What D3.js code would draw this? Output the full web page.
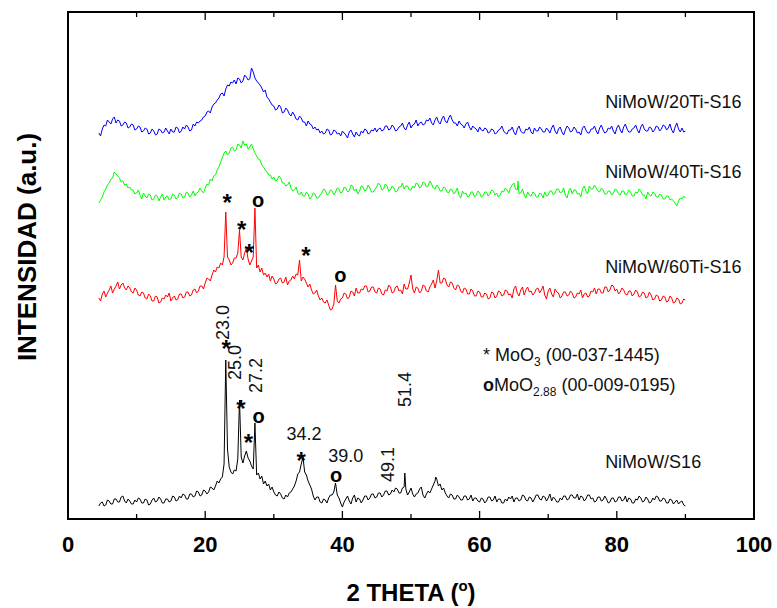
<!DOCTYPE html>
<html><head><meta charset="utf-8">
<script src="https://cdn.jsdelivr.net/npm/d3@7/dist/d3.min.js"></script>
<style>body{margin:0;background:#fff}text{font-family:"Liberation Sans",Arial,sans-serif}</style>
</head><body><svg id="c" width="777" height="608"></svg>
<script>
// 2θ grid: 4.5° to 90° in 0.25° steps (343 points)
const thetaStart = 4.5, thetaStep = 0.25;

const blueValues = [
386,383,390,394,393,399,397,395,400,402,396,399,398,393,394,397,396,391,392,395,
394,389,390,393,392,387,388,391,390,385,386,390,388,384,385,390,389,386,387,391,
388,385,390,387,387,392,391,386,388,392,390,394,392,388,389,395,393,397,396,398,
399,402,403,407,408,406,412,415,416,419,421,425,426,423,430,434,433,437,436,439,
435,441,440,436,438,444,442,439,440,451,447,441,438,436,434,431,427,429,422,420,
417,414,413,409,410,414,412,406,407,411,409,405,403,407,404,400,399,403,401,397,
397,393,398,395,394,390,392,389,390,386,388,385,386,390,389,384,385,389,388,385,
386,383,388,386,384,381,387,389,385,382,387,384,383,388,386,390,389,385,386,389,
388,391,387,390,391,388,389,393,393,389,390,394,392,388,389,392,393,396,391,389,
394,397,391,394,395,399,393,396,397,394,395,399,398,401,396,394,399,402,397,395,
400,403,398,396,401,404,399,396,396,393,398,395,394,391,395,397,392,389,393,391,
390,387,392,389,388,391,390,386,387,390,389,385,386,389,390,393,388,386,385,389,
389,392,387,384,390,393,388,386,386,390,389,392,387,385,391,388,388,392,390,387,
387,391,389,386,391,394,388,385,390,392,387,384,389,393,391,387,388,392,390,386,
387,384,391,393,389,386,386,390,390,393,388,385,391,394,389,386,387,391,390,393,
388,385,391,394,389,386,392,395,390,387,387,390,391,394,389,386,392,395,390,388,
388,392,391,387,389,393,392,388,390,394,393,389,391,395,389,386,392,396,390,387,
391,387,388];

const greenValues = [
316,319,322,327,330,334,336,340,341,347,345,343,341,337,338,334,335,331,332,329,
329,325,326,329,324,320,326,323,321,325,324,319,320,324,323,318,322,325,319,322,
323,319,320,325,324,320,321,326,325,321,322,327,326,322,324,328,323,326,327,331,
328,326,331,335,334,340,338,343,344,349,352,357,361,366,368,364,366,371,372,368,
369,375,374,371,378,374,375,370,372,375,370,366,363,360,359,354,352,349,347,344,
344,340,342,338,339,343,341,336,336,333,334,337,331,328,329,332,326,324,327,323,
323,327,325,320,322,326,325,321,321,324,326,330,329,324,325,329,328,324,327,331,
330,326,327,332,331,327,328,334,333,328,330,325,328,333,332,328,329,334,331,327,
327,330,332,336,334,329,330,335,333,328,329,333,331,327,328,332,332,336,330,333,
333,329,329,333,331,336,335,331,332,337,336,332,333,338,335,331,330,334,332,328,
328,332,331,327,326,330,329,325,327,331,324,321,328,325,326,322,323,327,327,322,
324,328,326,322,323,327,327,323,325,329,328,324,326,322,324,328,327,331,329,326,
331,334,336,330,329,325,326,330,324,321,327,324,323,327,326,322,322,326,325,321,
327,323,324,328,328,324,326,330,330,326,327,331,324,321,328,331,325,329,329,325,
326,322,330,333,328,325,333,330,330,334,331,328,327,331,329,325,325,328,328,324,
326,330,329,325,324,328,328,324,325,329,327,323,323,327,326,330,328,324,324,320,
327,324,323,327,326,322,322,325,324,320,320,323,323,319,320,318,316,313,318,321,
320,323,321];

const redValues = [
221,218,225,228,222,226,229,233,226,230,233,237,230,234,236,231,229,233,231,227,
226,231,229,224,223,227,226,221,220,225,223,218,218,223,222,216,217,221,220,224,
222,226,218,221,223,219,220,225,225,221,222,227,227,223,224,229,230,226,228,233,
233,230,236,241,240,238,244,249,247,252,251,256,254,262,307,262,259,254,256,261,
261,266,289,262,259,266,271,260,254,258,262,311,251,254,247,251,244,246,242,245,
238,243,240,235,236,240,241,236,237,242,234,238,239,243,240,245,244,259,238,242,
240,236,232,235,229,225,226,229,223,219,221,217,216,219,214,209,210,215,234,218,
216,220,221,226,225,220,222,228,227,223,231,226,226,230,229,233,233,227,228,232,
232,227,226,231,230,225,224,229,228,234,232,226,227,232,233,228,229,225,235,230,
230,236,244,230,226,232,231,226,228,234,233,228,227,232,235,239,231,238,249,236,
236,241,240,234,232,237,236,231,229,234,233,228,226,231,230,225,225,230,228,223,
223,228,227,222,222,226,225,220,221,227,226,221,223,228,227,223,224,229,228,224,
225,221,230,233,226,223,229,232,224,229,232,227,228,224,226,230,231,226,229,233,
224,220,228,231,225,222,230,227,226,221,223,227,227,223,224,228,226,221,222,226,
225,229,221,225,226,222,223,228,227,231,225,230,230,226,226,232,232,227,229,234,
233,228,230,225,227,231,229,225,224,228,228,223,225,229,227,222,223,227,226,221,
222,227,224,219,220,224,223,218,219,223,222,217,218,223,221,216,217,221,220,215,
216,220,219];

const blackValues = [
13,16,17,13,14,19,18,15,15,20,20,17,17,22,23,18,16,20,18,15,
15,19,17,21,20,16,16,20,19,14,15,19,21,17,18,22,20,16,16,20,
20,17,18,23,22,18,19,23,21,25,24,20,20,25,25,22,23,28,27,23,
24,29,28,25,27,32,31,29,33,38,36,40,42,55,159,70,52,47,45,49,
48,60,119,62,56,63,68,61,58,53,50,96,44,46,40,43,35,38,33,35,
29,32,27,24,23,27,25,21,20,24,22,26,27,30,33,38,45,47,55,62,
47,44,38,34,30,23,19,22,22,17,16,20,19,16,21,24,24,27,36,24,
21,16,12,17,20,23,18,15,21,24,17,21,20,16,19,23,23,19,21,25,
25,21,22,26,26,22,24,28,28,24,25,29,27,31,30,26,26,31,32,30,
24,27,31,25,22,25,26,30,32,24,21,25,28,26,30,34,38,40,33,35,
29,31,26,23,21,25,24,20,20,24,22,19,19,23,23,19,20,24,18,21,
21,18,17,21,20,16,18,22,22,18,19,23,17,20,20,16,16,20,18,22,
20,23,17,21,21,18,19,24,23,19,18,22,21,17,20,24,24,20,19,23,
22,18,21,25,18,22,20,17,17,21,19,23,23,19,20,24,24,21,21,25,
19,23,22,18,20,24,24,20,21,17,18,22,22,18,19,23,20,16,17,21,
21,17,18,22,22,18,19,23,17,21,20,16,16,20,19,23,21,17,18,22,
20,16,17,21,19,23,22,18,18,21,20,16,16,20,19,15,17,19,15,17,
18,14,13];

// sharp reflections falling between grid points [2θ, intensity]
const bluePeaks = [];
const greenPeaks = [[65.6, 338]];
const redPeaks = [];
const blackPeaks = [[49.1, 46], [53.6, 42]];

const seriesNames = ["NiMoW/20Ti-S16", "NiMoW/40Ti-S16", "NiMoW/60Ti-S16", "NiMoW/S16"];
const seriesColors = ["#0000ff", "#00ff00", "#ff0000", "#000000"];
const xTickValues = [0, 20, 40, 60, 80, 100];
const xMinorTicks = [10, 30, 50, 70, 90];
const peakPositions = ["23.0", "25.0", "27.2", "34.2", "39.0", "49.1", "51.4"];

const svg = d3.select("#c");
const L = 68, R = 754, T = 12, B = 519;
const x = d3.scaleLinear().domain([0, 100]).range([L, R]);
const y = d3.scaleLinear().domain([0, 507]).range([B, T]);

function build(vals, peaks) {
  const pts = vals.map((v, i) => [thetaStart + i * thetaStep, v]);
  return pts.concat(peaks).sort((a, b) => a[0] - b[0]);
}
const series = [
  build(blueValues, bluePeaks),
  build(greenValues, greenPeaks),
  build(redValues, redPeaks),
  build(blackValues, blackPeaks)
];

const line = d3.line().x(d => x(d[0])).y(d => y(d[1]));
series.forEach((s, i) => {
  svg.append("path").attr("d", line(s)).attr("fill", "none")
    .attr("stroke", seriesColors[i]).attr("stroke-width", 1).attr("stroke-linejoin", "miter");
});

// frame
svg.append("rect").attr("x", L).attr("y", T).attr("width", R - L).attr("height", B - T)
  .attr("fill", "none").attr("stroke", "#000").attr("stroke-width", 2);

// ticks (inward), bottom and top
const tickG = svg.append("g").attr("stroke", "#000").attr("stroke-width", 1.3);
xTickValues.concat(xMinorTicks).forEach(t => {
  const len = xTickValues.includes(t) ? 8 : 5;
  tickG.append("line").attr("x1", x(t)).attr("x2", x(t)).attr("y1", B).attr("y2", B - len);
  tickG.append("line").attr("x1", x(t)).attr("x2", x(t)).attr("y1", T).attr("y2", T + len);
});
// tick labels
xTickValues.forEach(t => {
  svg.append("text").attr("x", x(t)).attr("y", 552).attr("text-anchor", "middle")
    .attr("font-size", 22).attr("font-weight", "bold").text(t);
});

// axis titles
const xt = svg.append("text").attr("x", 411).attr("y", 601).attr("text-anchor", "middle")
  .attr("font-size", 24).attr("font-weight", "bold");
xt.append("tspan").text("2 THETA (");
xt.append("tspan").attr("font-size", 15).attr("dy", -10).text("o");
xt.append("tspan").attr("dy", 10).text(")");

svg.append("text").attr("transform", "translate(36,247) rotate(-90)").attr("text-anchor", "middle")
  .attr("font-size", 26).attr("font-weight", "bold").text("INTENSIDAD (a.u.)");

// series labels
const labelV = [411, 341, 246, 51];
seriesNames.forEach((n, i) => {
  svg.append("text").attr("x", x(78.3)).attr("y", y(labelV[i])).attr("font-size", 18)
    .attr("fill", "#111").text(n);
});

// peak position labels
const rotPos = {"23.0": [23.47, 179], "25.0": [25.2, 139], "27.2": [28.3, 126], "49.1": [47.5, 37], "51.4": [50.0, 112]};
const horPos = {"34.2": [34.4, 79], "39.0": [40.5, 57]};
peakPositions.forEach(p => {
  if (rotPos[p]) {
    const [t, v] = rotPos[p];
    svg.append("text").attr("transform", `translate(${x(t)},${y(v)}) rotate(-90)`)
      .attr("font-size", 18).attr("fill", "#111").text(p);
  } else {
    const [t, v] = horPos[p];
    svg.append("text").attr("x", x(t)).attr("y", y(v)).attr("text-anchor", "middle")
      .attr("font-size", 18).attr("fill", "#111").text(p);
  }
});

// phase markers (center positions)
const markers = [
  ["*", 23.05, 176], ["*", 25.2, 116], ["*", 26.3, 82], ["o", 27.8, 101], ["*", 34.0, 64], ["o", 39.1, 42],
  ["*", 23.2, 322], ["o", 27.7, 317], ["*", 25.3, 295], ["*", 26.4, 272], ["*", 34.7, 269], ["o", 39.7, 242]
];
markers.forEach(([m, t, v]) => {
  const fs = m === "*" ? 24 : 20;
  const off = m === "*" ? 0.58 * fs : 0.27 * fs;
  svg.append("text").attr("x", x(t)).attr("y", y(v) + off).attr("text-anchor", "middle")
    .attr("font-size", fs).attr("font-weight", "bold").text(m);
});

// legend
const lg1 = svg.append("text").attr("x", x(60.5)).attr("y", y(158)).attr("font-size", 18).attr("fill", "#111");
lg1.append("tspan").text("* MoO");
lg1.append("tspan").attr("font-size", 12).attr("dy", 5).text("3");
lg1.append("tspan").attr("dy", -5).text(" (00-037-1445)");
const lg2 = svg.append("text").attr("x", x(60.5)).attr("y", y(128)).attr("font-size", 18).attr("fill", "#111");
lg2.append("tspan").attr("font-weight", "bold").text("o");
lg2.append("tspan").text("MoO");
lg2.append("tspan").attr("font-size", 12).attr("dy", 5).text("2.88");
lg2.append("tspan").attr("dy", -5).text(" (00-009-0195)");
</script></body></html>
